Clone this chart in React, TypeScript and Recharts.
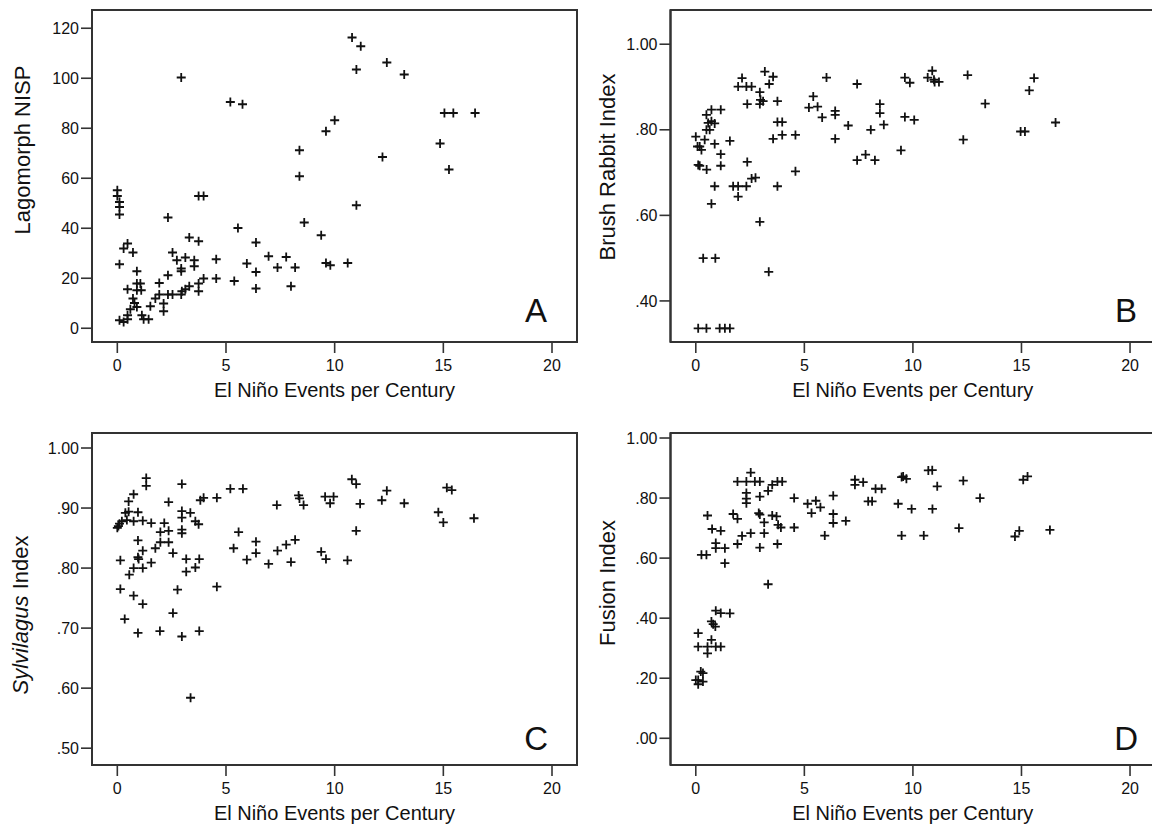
import React from "react";
import { ScatterChart, Scatter, XAxis, YAxis, ReferenceArea } from "recharts";

const FONT = '"Liberation Sans", Arial, Helvetica, sans-serif';

// X tick labels shared by all panels
const xTicks = [0, 5, 10, 15, 20];
const xTitle = "El Niño Events per Century";

// Panel A: Lagomorph NISP
const lagoX = [2.94, 5.2, 5.76, 9.6, 10.0, 8.38, 8.38, 8.6, 9.38, 9.6, 9.8, 0.0, 0.0, 0.1, 0.1, 0.1, 3.74, 3.97, 2.33, 5.55, 0.47, 0.29, 0.72, 0.1, 3.31, 3.74, 6.38, 2.54, 2.74, 3.13, 3.54, 3.54, 2.94, 2.94, 4.55, 4.55, 5.96, 6.96, 7.37, 7.77, 8.18, 6.38, 6.38, 7.99, 5.38, 3.97, 3.74, 3.74, 3.31, 3.13, 2.97, 2.94, 2.54, 2.33, 2.33, 1.93, 1.93, 1.75, 2.13, 2.13, 1.52, 0.9, 0.47, 0.9, 1.06, 0.9, 1.1, 0.72, 0.79, 0.9, 0.6, 0.47, 0.1, 0.29, 0.47, 1.13, 1.21, 1.44, 10.8, 11.2, 11.0, 12.4, 13.2, 15.05, 15.46, 16.46, 14.85, 12.2, 15.26, 11.0, 10.6];
const lagoY = [100.3, 90.5, 89.6, 78.8, 83.2, 71.2, 60.8, 42.3, 37.2, 26.1, 25.2, 55.2, 52.9, 50.5, 48.5, 45.5, 52.9, 52.9, 44.3, 40.1, 33.9, 31.9, 30.3, 25.6, 36.3, 34.8, 34.3, 30.3, 27.2, 28.3, 27.2, 24.8, 23.9, 22.8, 27.6, 19.9, 25.9, 28.8, 24.3, 28.5, 24.3, 22.5, 15.9, 16.8, 18.9, 19.9, 17.9, 14.8, 16.8, 15.6, 14.8, 13.5, 13.5, 13.5, 21.2, 18.1, 13.5, 11.9, 9.9, 6.8, 8.8, 22.8, 15.6, 17.9, 17.9, 15.2, 15.2, 11.9, 10.1, 8.5, 7.6, 5.2, 3.2, 2.5, 3.6, 5.2, 3.6, 3.6, 116.3, 112.8, 103.5, 106.3, 101.5, 86.1, 86.1, 86.1, 73.9, 68.5, 63.5, 49.2, 26.1];
const lagoTicks = [0, 20, 40, 60, 80, 100, 120];

// Panel B: Brush Rabbit Index
const brushX = [0.0, 0.08, 0.18, 0.26, 0.41, 0.49, 0.64, 0.57, 0.72, 0.87, 0.49, 0.72, 1.15, 0.87, 1.57, 1.15, 0.11, 0.18, 0.5, 1.15, 0.87, 0.72, 0.34, 0.9, 0.11, 0.49, 1.1, 1.34, 1.57, 1.72, 1.95, 2.33, 1.95, 2.37, 2.57, 2.75, 1.95, 2.13, 2.33, 2.57, 2.37, 2.95, 3.18, 3.56, 3.38, 2.98, 3.1, 2.95, 3.76, 3.76, 3.98, 3.56, 3.98, 4.59, 3.76, 4.59, 2.95, 3.36, 5.21, 5.61, 5.41, 6.02, 5.82, 6.42, 6.42, 6.42, 7.02, 7.43, 7.43, 7.82, 8.25, 8.06, 8.48, 8.48, 8.66, 9.45, 9.63, 9.63, 9.86, 10.89, 10.68, 10.97, 11.2, 11.0, 12.52, 15.58, 15.36, 13.33, 10.06, 16.57, 14.96, 15.16, 12.32];
const brushY = [0.784, 0.761, 0.761, 0.753, 0.777, 0.8, 0.8, 0.816, 0.82, 0.815, 0.835, 0.847, 0.847, 0.767, 0.774, 0.743, 0.718, 0.716, 0.707, 0.716, 0.668, 0.627, 0.5, 0.5, 0.336, 0.336, 0.336, 0.336, 0.336, 0.668, 0.668, 0.668, 0.644, 0.725, 0.686, 0.688, 0.901, 0.921, 0.901, 0.901, 0.86, 0.888, 0.936, 0.924, 0.907, 0.87, 0.867, 0.86, 0.867, 0.818, 0.818, 0.779, 0.788, 0.788, 0.668, 0.703, 0.585, 0.468, 0.852, 0.854, 0.878, 0.922, 0.829, 0.844, 0.835, 0.779, 0.81, 0.907, 0.729, 0.742, 0.729, 0.8, 0.86, 0.839, 0.812, 0.752, 0.922, 0.83, 0.91, 0.938, 0.922, 0.917, 0.912, 0.912, 0.928, 0.921, 0.892, 0.861, 0.823, 0.817, 0.796, 0.796, 0.777];
const brushTicks = [0.4, 0.6, 0.8, 1.0];

// Panel C: Sylvilagus Index
const sylvX = [1.33, 1.33, 2.97, 0.75, 0.52, 2.36, 3.82, 3.97, 4.58, 5.2, 5.78, 7.34, 8.34, 8.38, 8.57, 9.56, 9.79, 9.95, 0.0, 0.05, 0.1, 0.21, 0.44, 0.37, 0.52, 0.95, 0.75, 1.17, 1.56, 2.16, 1.98, 2.36, 2.97, 2.97, 2.97, 2.97, 3.36, 3.59, 3.74, 0.95, 1.98, 2.36, 1.75, 1.17, 0.95, 0.98, 0.14, 0.75, 1.17, 0.55, 1.56, 2.56, 3.17, 3.77, 3.59, 3.17, 4.58, 0.14, 0.75, 1.17, 2.77, 2.56, 0.34, 0.95, 1.96, 2.97, 3.77, 3.37, 5.35, 5.58, 5.96, 6.38, 6.38, 6.96, 7.37, 7.77, 7.99, 8.18, 9.38, 9.6, 10.79, 10.99, 11.17, 12.4, 12.17, 13.2, 15.16, 15.39, 14.77, 15.0, 16.41, 10.99, 10.59];
const sylvY = [0.95, 0.937, 0.94, 0.923, 0.911, 0.91, 0.913, 0.917, 0.917, 0.932, 0.932, 0.905, 0.921, 0.916, 0.905, 0.919, 0.908, 0.919, 0.867, 0.87, 0.874, 0.878, 0.88, 0.892, 0.894, 0.893, 0.878, 0.879, 0.875, 0.875, 0.86, 0.862, 0.895, 0.884, 0.864, 0.858, 0.892, 0.878, 0.873, 0.846, 0.843, 0.843, 0.833, 0.829, 0.818, 0.815, 0.813, 0.8, 0.8, 0.789, 0.809, 0.825, 0.815, 0.815, 0.801, 0.794, 0.769, 0.765, 0.754, 0.74, 0.764, 0.725, 0.715, 0.692, 0.695, 0.686, 0.695, 0.584, 0.833, 0.86, 0.814, 0.844, 0.825, 0.807, 0.829, 0.839, 0.81, 0.847, 0.827, 0.815, 0.948, 0.94, 0.907, 0.929, 0.913, 0.908, 0.934, 0.93, 0.893, 0.876, 0.883, 0.862, 0.813];
const sylvTicks = [0.5, 0.6, 0.7, 0.8, 0.9, 1.0];

// Panel D: Fusion Index
const fusionX = [2.53, 1.92, 2.33, 2.72, 2.95, 3.52, 3.76, 3.98, 3.33, 2.33, 2.33, 2.33, 2.95, 4.53, 0.54, 1.72, 1.92, 2.9, 2.95, 3.15, 3.52, 3.72, 3.79, 3.92, 4.53, 0.75, 1.15, 2.13, 2.53, 3.15, 0.92, 0.92, 1.34, 1.92, 2.95, 3.76, 0.26, 0.49, 1.34, 3.33, 0.92, 1.15, 1.57, 0.72, 0.8, 0.9, 0.11, 0.11, 0.54, 0.92, 1.15, 0.72, 0.54, 0.23, 0.33, 0.0, 0.11, 0.33, 0.11, 5.15, 5.33, 5.53, 5.74, 5.94, 6.33, 6.33, 6.33, 6.91, 7.33, 7.33, 7.71, 7.94, 8.12, 8.28, 8.56, 9.32, 9.48, 9.48, 9.55, 9.7, 10.71, 10.89, 11.12, 12.32, 13.09, 15.08, 15.28, 9.94, 10.9, 10.5, 12.12, 14.7, 14.9, 16.31];
const fusionY = [0.885, 0.855, 0.855, 0.855, 0.855, 0.844, 0.855, 0.855, 0.824, 0.817, 0.798, 0.783, 0.805, 0.8, 0.742, 0.747, 0.731, 0.75, 0.745, 0.719, 0.742, 0.739, 0.711, 0.702, 0.702, 0.697, 0.691, 0.674, 0.683, 0.683, 0.65, 0.633, 0.633, 0.647, 0.635, 0.647, 0.611, 0.611, 0.583, 0.513, 0.425, 0.417, 0.416, 0.389, 0.38, 0.372, 0.35, 0.305, 0.305, 0.305, 0.305, 0.328, 0.283, 0.222, 0.217, 0.194, 0.194, 0.189, 0.18, 0.781, 0.75, 0.791, 0.769, 0.675, 0.808, 0.747, 0.717, 0.724, 0.861, 0.844, 0.853, 0.789, 0.789, 0.831, 0.831, 0.781, 0.87, 0.675, 0.872, 0.864, 0.892, 0.893, 0.839, 0.858, 0.8, 0.861, 0.872, 0.764, 0.764, 0.675, 0.7, 0.672, 0.691, 0.694];
const fusionTicks = [0, 0.2, 0.4, 0.6, 0.8, 1.0];

const toData = (xs: number[], ys: number[]) => xs.map((x, i) => ({ x, y: ys[i] }));
const fmtInt = (v: number) => String(v);
const fmtIdx = (v: number) => v.toFixed(2).replace(/^0/, "");

const Plus = (props: any) => {
  const { cx, cy } = props;
  if (cx == null || cy == null) return null;
  return (
    <path
      d={`M${cx - 4.5},${cy}h9M${cx},${cy - 4.5}v9`}
      stroke="#111"
      strokeWidth={1.8}
      fill="none"
    />
  );
};

const X_DOMAIN: [number, number] = [-1.165, 21.15];

type PanelProps = {
  xs: number[];
  ys: number[];
  yDomain: [number, number];
  yTicks: number[];
  fmt: (v: number) => string;
  letter: string;
  letterRight: number;
  letterBottom: number;
  title: React.ReactNode;
  titleDx: number;
  titleCy: number;
  left: number;
  top: number;
  width: number;
  marginLeft: number;
};

function Panel(p: PanelProps) {
  const data = toData(p.xs, p.ys);
  const yTitle = (lp: any) => {
    const vb = lp.viewBox || {};
    const cx = vb.x + vb.width + p.titleDx;
    const cy = vb.y + p.titleCy;
    return (
      <text
        x={cx}
        y={cy}
        transform={`rotate(-90, ${cx}, ${cy})`}
        textAnchor="middle"
        dominantBaseline="central"
        fontSize={22}
        fill="#111"
        fontFamily={FONT}
      >
        {p.title}
      </text>
    );
  };
  const xTitleFn = (lp: any) => {
    const vb = lp.viewBox || {};
    return (
      <text
        x={vb.x + vb.width / 2}
        y={vb.y + 55}
        textAnchor="middle"
        fontSize={20}
        fill="#111"
        fontFamily={FONT}
      >
        {xTitle}
      </text>
    );
  };
  const letterFn = (lp: any) => {
    const vb = lp.viewBox || {};
    return (
      <text
        x={vb.x + vb.width - p.letterRight}
        y={vb.y + vb.height - p.letterBottom}
        textAnchor="end"
        fontSize={33}
        fill="#111"
        fontFamily={FONT}
      >
        {p.letter}
      </text>
    );
  };
  return (
    <div style={{ position: "absolute", left: p.left, top: p.top }}>
      <ScatterChart
        width={p.width}
        height={418}
        margin={{ top: 10, right: 3, bottom: 16, left: p.marginLeft }}
      >
        <XAxis
          type="number"
          dataKey="x"
          domain={X_DOMAIN}
          ticks={xTicks}
          allowDataOverflow
          interval={0}
          height={60}
          tickSize={11}
          tickMargin={7}
          axisLine={{ stroke: "#333", strokeWidth: 2 }}
          tickLine={{ stroke: "#333", strokeWidth: 1.6 }}
          tick={{ fontSize: 16, fill: "#111", fontFamily: FONT }}
          label={xTitleFn}
        />
        <YAxis
          type="number"
          dataKey="y"
          domain={p.yDomain}
          ticks={p.yTicks}
          allowDataOverflow
          interval={0}
          width={80}
          tickSize={11}
          tickMargin={2}
          tickFormatter={p.fmt}
          axisLine={{ stroke: "#333", strokeWidth: 2 }}
          tickLine={{ stroke: "#333", strokeWidth: 1.6 }}
          tick={{ fontSize: 16, fill: "#111", fontFamily: FONT }}
          label={yTitle}
        />
        <ReferenceArea
          x1={X_DOMAIN[0]}
          x2={X_DOMAIN[1]}
          y1={p.yDomain[0]}
          y2={p.yDomain[1]}
          fill="none"
          fillOpacity={0}
          stroke="#333"
          strokeWidth={2}
          ifOverflow="visible"
          label={letterFn}
        />
        <Scatter data={data} shape={<Plus />} isAnimationActive={false} />
      </ScatterChart>
    </div>
  );
}

export default function App() {
  return (
    <div
      style={{
        position: "absolute",
        left: 0,
        top: 0,
        width: 1152,
        height: 827,
        overflow: "hidden",
        background: "#fff",
        fontFamily: FONT,
      }}
    >
      <Panel
        xs={lagoX}
        ys={lagoY}
        yDomain={[-5.5, 127.3]}
        yTicks={lagoTicks}
        fmt={fmtInt}
        letter="A"
        letterRight={30}
        letterBottom={20}
        title="Lagomorph NISP"
        titleDx={-70}
        titleCy={140}
        left={0}
        top={0}
        width={580}
        marginLeft={12}
      />
      <Panel
        xs={brushX}
        ys={brushY}
        yDomain={[0.304, 1.08]}
        yTicks={brushTicks}
        fmt={fmtIdx}
        letter="B"
        letterRight={18}
        letterBottom={20}
        title="Brush Rabbit Index"
        titleDx={-63}
        titleCy={157}
        left={576}
        top={0}
        width={582}
        marginLeft={14.5}
      />
      <Panel
        xs={sylvX}
        ys={sylvY}
        yDomain={[0.472, 1.025]}
        yTicks={sylvTicks}
        fmt={fmtIdx}
        letter="C"
        letterRight={29}
        letterBottom={15}
        title={
          <>
            <tspan fontStyle="italic">Sylvilagus</tspan>
            <tspan> Index</tspan>
          </>
        }
        titleDx={-72}
        titleCy={182}
        left={0}
        top={423}
        width={580}
        marginLeft={12}
      />
      <Panel
        xs={fusionX}
        ys={fusionY}
        yDomain={[-0.089, 1.0167]}
        yTicks={fusionTicks}
        fmt={fmtIdx}
        letter="D"
        letterRight={17}
        letterBottom={15}
        title="Fusion Index"
        titleDx={-63}
        titleCy={150}
        left={576}
        top={423}
        width={582}
        marginLeft={14.5}
      />
    </div>
  );
}
